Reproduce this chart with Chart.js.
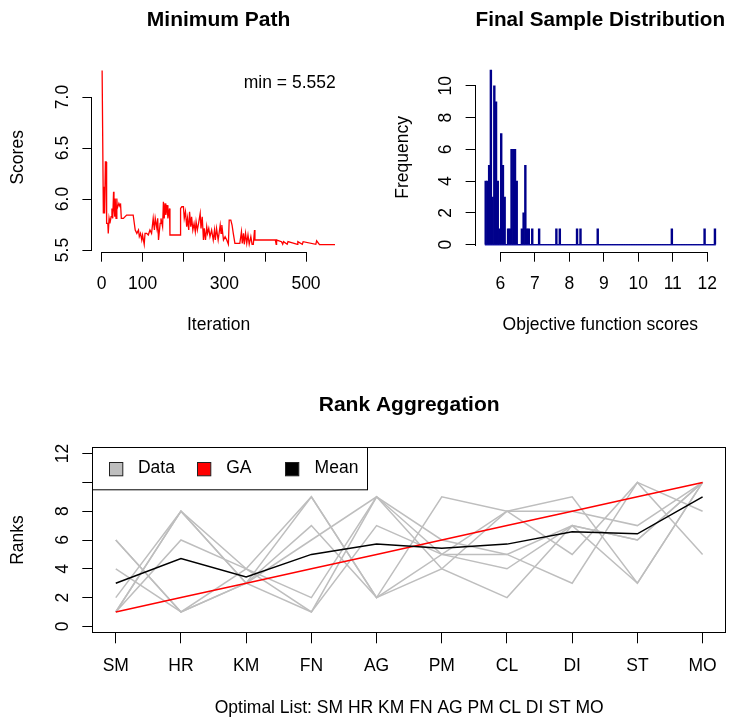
<!DOCTYPE html>
<html><head><meta charset="utf-8">
<script src="https://cdn.jsdelivr.net/npm/chart.js@4.4.1/dist/chart.umd.min.js"></script>
<style>
html,body{margin:0;padding:0;background:#fff;}
#wrap{position:relative;width:729px;height:720px;overflow:hidden;background:#fff;}
canvas{position:absolute;}
</style></head><body>
<div id="wrap">
<canvas id="c1" width="364" height="360" style="left:0;top:0;width:364px;height:360px"></canvas>
<canvas id="c2" width="365" height="360" style="left:364px;top:0;width:365px;height:360px"></canvas>
<canvas id="c3" width="729" height="360" style="left:0;top:360px;width:729px;height:360px"></canvas>
</div>
<script>
// ---------- Panel 1: Minimum Path ----------
const iterX = [1,4,6,7,9,11,12,15,16,18,20,23,25,27,29,30,32,33,35,37,38,42,45,46,48,53,61,77,82,86,90,92,95,98,100,104,106,110,114,118,122,126,129,131,135,137,139,143,145,149,151,153,155,157,160,162,166,167,192,193,196,200,202,205,208,210,213,215,218,220,223,226,229,231,234,237,241,243,246,249,251,254,257,259,262,265,269,273,276,278,281,285,290,292,294,298,302,306,310,312,316,319,322,326,330,334,338,342,344,347,349,352,355,358,361,365,368,371,374,375,404,425,427,428,440,443,445,454,456,479,480,491,493,524,526,533,571];
const iterScore = [7.261,5.859,6.120,5.859,6.364,6.364,5.761,5.761,5.663,5.810,5.761,5.826,5.908,5.810,6.071,5.924,5.826,6.006,5.810,6.006,5.908,5.957,5.924,5.957,5.810,5.810,5.843,5.843,5.696,5.663,5.696,5.631,5.663,5.598,5.647,5.556,5.663,5.663,5.647,5.696,5.663,5.810,5.696,5.810,5.712,5.810,5.598,5.761,5.810,5.728,5.973,5.810,5.957,5.843,5.940,5.810,5.908,5.647,5.647,5.908,5.924,5.924,5.810,5.875,5.728,5.810,5.696,5.875,5.728,5.826,5.696,5.761,5.680,5.777,5.696,5.761,5.859,5.712,5.826,5.598,5.712,5.598,5.728,5.663,5.712,5.631,5.696,5.598,5.696,5.598,5.712,5.598,5.745,5.663,5.745,5.598,5.631,5.598,5.556,5.794,5.794,5.745,5.663,5.565,5.565,5.565,5.565,5.680,5.565,5.663,5.556,5.663,5.565,5.647,5.556,5.631,5.556,5.556,5.696,5.598,5.598,5.598,5.556,5.598,5.582,5.556,5.582,5.556,5.582,5.556,5.582,5.556,5.582,5.556,5.590,5.552,5.552];
const iterTicks = [0,100,200,300,400,500];
const iterTickLabels = ['0','100','','300','','500'];
const scoreTicks = [5.5,6.0,6.5,7.0];
const scoreTickLabels = ['5.5','6.0','6.5','7.0'];
const minLabel = 'min = 5.552';

// ---------- Panel 2: Final Sample Distribution ----------
const binLefts  = [5.55,5.60,5.65,5.70,5.75,5.80,5.85,5.90,5.95,6.00,6.05,6.10,6.20,6.25,6.30,6.35,6.40,6.45,6.60,6.65,6.70,6.75,6.80,6.90,7.10,7.60,7.70,8.20,8.30,8.80,10.95,11.90,12.20];
const binCounts = [4,4,5,11,3,10,9,4,1,7,5,3,1,1,6,6,6,4,1,2,5,1,1,1,1,1,1,1,1,1,1,1,1];
const binStart = 5.55, binEnd = 12.25, binWidth = 0.05;
const freqTicks = [0,2,4,6,8,10];
const freqTickLabels = ['0','2','4','6','8','10'];
const objTicks = [6,7,8,9,10,11,12];
const objTickLabels = ['6','7','8','9','10','11','12'];

// ---------- Panel 3: Rank Aggregation ----------
const listNames = ['SM','HR','KM','FN','AG','PM','CL','DI','ST','MO'];
const dataRanks = [
  [6,1,4,2,9,6,5,7,6,10],
  [6,1,3,7,2,9,8,9,3,10],
  [4,1,3,9,2,4,2,7,3,10],
  [2,8,3,1,9,5,8,5,10,5],
  [1,8,4,9,2,5,5,3,10,8],
  [1,8,3,6,9,4,8,8,7,10],
  [1,6,4,1,7,5,4,7,6,10]
];
const gaRanks = [1,2,3,4,5,6,7,8,9,10];
const rankTicks = [0,2,4,6,8,10,12];
const rankTickLabels = ['0','2','4','6','8','','12'];
const legendLabels = ['Data','GA','Mean'];

const GRAY = '#BEBEBE', RED = '#FF0000', BLACK = '#000000';
const BAR_FILL = '#00008B', BASE_LINE = '#1E1EB4';

Chart.defaults.font.family = "'Liberation Sans', Arial, Helvetica, sans-serif";
Chart.defaults.font.size = 17.5;
Chart.defaults.color = '#000';
Chart.defaults.animation = false;
Chart.defaults.plugins.legend.display = false;
Chart.defaults.plugins.tooltip.enabled = false;

function rScale(o) {
  const horiz = o.axis === 'x';
  return {
    type: 'linear', position: horiz ? 'bottom' : 'left', bounds: 'data',
    min: o.min, max: o.max, offset: false,
    afterBuildTicks: s => { s.ticks = o.ticks.map(v => ({value: v})); },
    afterFit: s => { if (horiz) s.height = o.size; else s.width = o.size; },
    ticks: {
      autoSkip: false, minRotation: horiz ? 0 : 90, maxRotation: horiz ? 0 : 90,
      padding: o.tickPad, crossAlign: horiz ? 'near' : 'center', color: '#000',
      callback: (v, i) => o.labels[i]
    },
    grid: { display: true, offset: false, drawOnChartArea: false, drawTicks: true, tickLength: 10,
            tickColor: '#000', color: '#000', lineWidth: 1, tickWidth: 1 },
    border: { display: false },
    title: { display: true, text: o.title, color: '#000',
             padding: horiz ? {top: 0, bottom: o.titlePad} : {top: o.titlePad, bottom: 0} }
  };
}

const rAxes = {
  id: 'rAxes',
  afterDraw(chart, args, opt) {
    const {ctx, chartArea: a} = chart;
    ctx.save();
    ctx.strokeStyle = '#000'; ctx.lineWidth = 1;
    if (opt.box) {
      const l = Math.round(a.left) + 0.5, t = Math.round(a.top) + 0.5;
      const r = Math.round(a.right) - 0.5, b = Math.round(a.bottom) - 0.5;
      ctx.strokeRect(l, t, r - l, b - t);
    } else {
      const sx = chart.scales.x, sy = chart.scales.y;
      const yb = Math.round(sx.top) + 0.5;
      ctx.beginPath();
      ctx.moveTo(Math.round(sx.getPixelForValue(sx.ticks[0].value)), yb);
      ctx.lineTo(Math.round(sx.getPixelForValue(sx.ticks[sx.ticks.length - 1].value)) + 1, yb);
      const xl = Math.round(sy.right) - 0.5;
      ctx.moveTo(xl, Math.round(sy.getPixelForValue(sy.ticks[0].value)) + 1);
      ctx.lineTo(xl, Math.round(sy.getPixelForValue(sy.ticks[sy.ticks.length - 1].value)));
      ctx.stroke();
    }
    ctx.restore();
  }
};

const cornerText = {
  id: 'cornerText',
  afterDraw(chart, args, opt) {
    if (!opt.text) return;
    const {ctx, chartArea: a} = chart;
    ctx.save();
    ctx.font = "17.5px 'Liberation Sans', Arial, sans-serif";
    ctx.fillStyle = '#000'; ctx.textAlign = 'right'; ctx.textBaseline = 'middle';
    ctx.fillText(opt.text, a.right - opt.dx, a.top + opt.dy);
    ctx.restore();
  }
};

const rLegend = {
  id: 'rLegend',
  afterDraw(chart, args, opt) {
    if (!opt.entries) return;
    const {ctx, chartArea: a} = chart;
    const x0 = Math.round(a.left) + 0.5, y0 = Math.round(a.top) + 0.5;
    ctx.save();
    ctx.fillStyle = '#fff';
    ctx.fillRect(x0, y0, opt.width, opt.height);
    ctx.strokeStyle = '#000'; ctx.lineWidth = 1;
    ctx.strokeRect(x0, y0, opt.width, opt.height);
    ctx.font = "17.5px 'Liberation Sans', Arial, sans-serif";
    ctx.textBaseline = 'middle'; ctx.textAlign = 'left';
    const cy = y0 + opt.height / 2;
    opt.entries.forEach((e, i) => {
      const bx = Math.round(x0 + opt.first + i * opt.step) + 0.5;
      const s = opt.box;
      ctx.fillStyle = e.color;
      ctx.fillRect(bx, Math.round(cy - s / 2) + 0.5, s, s);
      ctx.strokeStyle = '#222';
      ctx.strokeRect(bx, Math.round(cy - s / 2) + 0.5, s, s);
      ctx.fillStyle = '#000';
      ctx.fillText(e.text, x0 + opt.first + i * opt.step + opt.textOff, cy);
    });
    ctx.restore();
  }
};

// ---------- Chart 1 ----------
new Chart(document.getElementById('c1'), {
  type: 'line',
  data: { datasets: [{
    data: iterX.map((x, i) => ({x: x, y: iterScore[i]})),
    borderColor: RED, borderWidth: 1.3, pointRadius: 0, tension: 0, fill: false
  }]},
  options: {
    responsive: false, maintainAspectRatio: false,
    layout: { padding: {left: 0, right: 19.3, top: 0, bottom: 18.3} },
    scales: {
      x: rScale({axis: 'x', min: -22.8, max: 594.7, ticks: iterTicks, labels: iterTickLabels,
                 title: 'Iteration', titlePad: 6.2, tickPad: 11.8, size: 90}),
      y: rScale({axis: 'y', min: 5.4835, max: 7.3335, ticks: scoreTicks, labels: scoreTickLabels,
                 title: 'Scores', titlePad: 7.8, tickPad: 6.9, size: 92.4})
    },
    plugins: {
      title: { display: true, text: 'Minimum Path', fullSize: false, color: '#000',
               font: {size: 21, weight: 'bold'}, padding: {top: 7.4, bottom: 30.4} },
      rAxes: { box: false },
      cornerText: { text: minLabel, dx: 9, dy: 20.5 }
    }
  },
  plugins: [rAxes, cornerText]
});

// ---------- Chart 2 ----------
const nBins = Math.round((binEnd - binStart) / binWidth);
const histData = [];
for (let i = 0; i < nBins; i++) {
  const left = binStart + i * binWidth;
  const k = binLefts.findIndex(b => Math.abs(b - left) < binWidth / 10);
  histData.push({x: left + binWidth / 2, y: k >= 0 ? binCounts[k] : 0});
}
new Chart(document.getElementById('c2'), {
  type: 'bar',
  data: { datasets: [
    { type: 'bar', data: histData, backgroundColor: BAR_FILL, borderWidth: 0,
      barPercentage: 1, categoryPercentage: 1, inflateAmount: 0.35, order: 0 },
    { type: 'line', data: [{x: binStart, y: 0}, {x: binEnd, y: 0}], borderColor: BASE_LINE,
      borderWidth: 1.4, pointRadius: 0, order: 1 }
  ]},
  options: {
    responsive: false, maintainAspectRatio: false,
    layout: { padding: {left: 0, right: 0.8, top: 0, bottom: 18.3} },
    scales: {
      x: rScale({axis: 'x', min: 5.282, max: 12.518, ticks: objTicks, labels: objTickLabels,
                 title: 'Objective function scores', titlePad: 6.2, tickPad: 11.8, size: 90}),
      y: rScale({axis: 'y', min: -0.44, max: 11.44, ticks: freqTicks, labels: freqTickLabels,
                 title: 'Frequency', titlePad: 28.8, tickPad: 9.4, size: 111.6})
    },
    plugins: {
      title: { display: true, text: 'Final Sample Distribution', fullSize: false, color: '#000',
               font: {size: 21, weight: 'bold'}, padding: {top: 7.4, bottom: 30.4} },
      rAxes: { box: false }
    }
  },
  plugins: [rAxes]
});

// ---------- Chart 3 ----------
const meanRanks = listNames.map((n, j) => dataRanks.reduce((s, r) => s + r[j], 0) / dataRanks.length);
const toPts = arr => arr.map((v, i) => ({x: i + 1, y: v}));
const ds3 = [
  { label: legendLabels[2], data: toPts(meanRanks), borderColor: BLACK, borderWidth: 1.5, order: 0 },
  { label: legendLabels[1], data: toPts(gaRanks), borderColor: RED, borderWidth: 1.5, order: 1 }
].concat(dataRanks.map(r => ({ label: legendLabels[0], data: toPts(r), borderColor: GRAY, borderWidth: 1.5, order: 2 })));
ds3.forEach(d => { d.pointRadius = 0; d.tension = 0; d.fill = false; });

new Chart(document.getElementById('c3'), {
  type: 'line',
  data: { datasets: ds3 },
  options: {
    responsive: false, maintainAspectRatio: false,
    layout: { padding: {left: 0, right: 2.3, top: 0, bottom: 0} },
    scales: {
      x: rScale({axis: 'x', min: 0.64, max: 10.36, ticks: listNames.map((n, i) => i + 1), labels: listNames,
                 title: 'Optimal List: ' + listNames.join(' '), titlePad: 1.5, tickPad: 12.2, size: 86.7}),
      y: rScale({axis: 'y', min: -0.48, max: 12.48, ticks: rankTicks, labels: rankTickLabels,
                 title: 'Ranks', titlePad: 7.8, tickPad: 9.4, size: 92.3})
    },
    plugins: {
      title: { display: true, text: 'Rank Aggregation', fullSize: false, color: '#000',
               font: {size: 21, weight: 'bold'}, padding: {top: 32.4, bottom: 29.1} },
      rAxes: { box: true },
      rLegend: {
        entries: [{text: legendLabels[0], color: GRAY}, {text: legendLabels[1], color: RED}, {text: legendLabels[2], color: BLACK}],
        width: 275, height: 42.3, first: 16, step: 88.35, box: 13.3, textOff: 29.4
      }
    }
  },
  plugins: [rAxes, rLegend]
});
</script>
</body></html>
